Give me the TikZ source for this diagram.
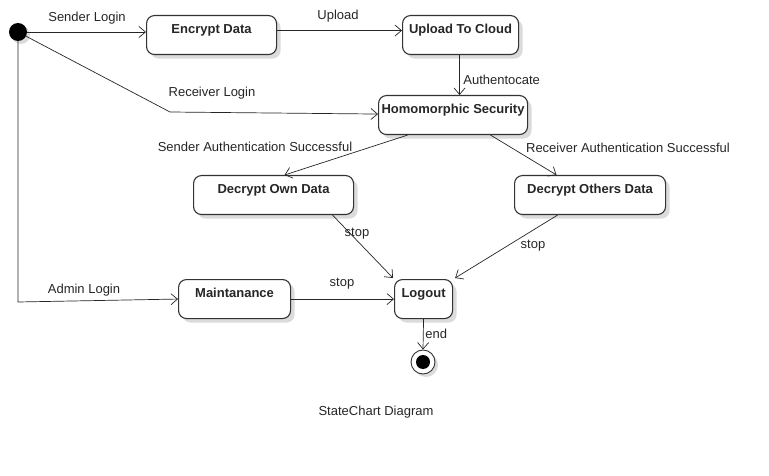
\documentclass[tikz,border=0pt]{standalone}
\usepackage{fontspec}
\setmainfont{Liberation Sans}
\usetikzlibrary{arrows.meta,shadows}
\begin{document}
\begin{tikzpicture}[x=1pt,y=-1pt,
  every node/.style={font=\fontsize{13}{15}\selectfont, text=black!85},
  statebox/.style={draw=black!80, line width=1.1pt, fill=white, rounded corners=8pt,
    inner xsep=0pt, inner ysep=0pt, text height=17.5pt, text depth=21.5pt,
    font=\fontsize{13}{15}\selectfont\bfseries, anchor=north west,
    drop shadow={shadow xshift=4pt, shadow yshift=-4pt, fill=black!14, opacity=1}},
  arr/.style={draw=black!85, line width=0.7pt, -{Straight Barb[length=6.5pt,width=11pt]}},
  lbl/.style={inner sep=0pt, yshift=-1.5pt}]
\useasboundingbox[fill=white] (0,0) rectangle (769,476);

\node[circle, fill=black, minimum size=18pt, inner sep=0pt,
  drop shadow={shadow xshift=3pt, shadow yshift=-3pt, fill=black!14, opacity=1}] (start) at (18,32) {};

\node[statebox, minimum width=130pt] (enc) at (146,15) {Encrypt Data};
\node[statebox, minimum width=116pt] (up) at (402,15) {Upload To Cloud};
\node[statebox, minimum width=149pt] (homo) at (378,95) {Homomorphic Security};
\node[statebox, minimum width=160pt] (own) at (193,175) {Decrypt Own Data};
\node[statebox, minimum width=151pt] (oth) at (514,175) {Decrypt Others Data};
\node[statebox, minimum width=112pt] (maint) at (178,279) {Maintanance};
\node[statebox, minimum width=58pt] (logout) at (394,279) {Logout};

\node[circle, draw=black!80, line width=0.9pt, fill=white, minimum size=24pt, inner sep=0pt,
  drop shadow={shadow xshift=3pt, shadow yshift=-3pt, fill=black!14, opacity=1}] (endst) at (423,362) {};
\node[circle, fill=black, minimum size=14pt, inner sep=0pt] (endin) at (endst.center) {};

\coordinate (rbend) at (170,112);
\coordinate (abend) at (18,302);

\draw[arr] (start.east) -- (start.east -| enc.west)
  node[lbl] at (87,17) {Sender Login};
\draw[arr] ([yshift=4.5pt]enc.east) -- ([yshift=4.5pt]enc.east -| up.west)
  node[lbl] at (338,15) {Upload};
\draw[arr] ([xshift=-1pt]up.south) -- ([xshift=-1pt]up.south |- homo.north)
  node[lbl, anchor=west] at (463,78) {Authentocate};
\draw[arr] (start) -- (rbend) -- ([yshift=1pt]homo.west)
  node[lbl] at (212,92) {Receiver Login};
\draw[arr] (start.south) -- (abend) -- (maint.west)
  node[lbl] at (84,289) {Admin Login};
\draw[arr] ([xshift=-45.5pt]homo.south) -- ([xshift=11pt]own.north)
  node[lbl] at (255,145) {Sender Authentication Successful};
\draw[arr] ([xshift=37.5pt]homo.south) -- ([xshift=-33.5pt]oth.north)
  node[lbl] at (628,146) {Receiver Authentication Successful};
\draw[arr] ([xshift=59pt]own.south) -- ([xshift=-1pt,yshift=1pt]logout.north west)
  node[lbl] at (357,232) {stop};
\draw[arr] ([xshift=-32.5pt]oth.south) -- ([xshift=2pt,yshift=1pt]logout.north east)
  node[lbl] at (533,244) {stop};
\draw[arr] (maint.east) -- (logout.west)
  node[lbl] at (342,282) {stop};
\draw[arr] (logout.south) -- (endst.north)
  node[lbl, anchor=west] at (425,332) {end};

\node[lbl] (title) at (376,411) {StateChart Diagram};
\end{tikzpicture}
\end{document}
